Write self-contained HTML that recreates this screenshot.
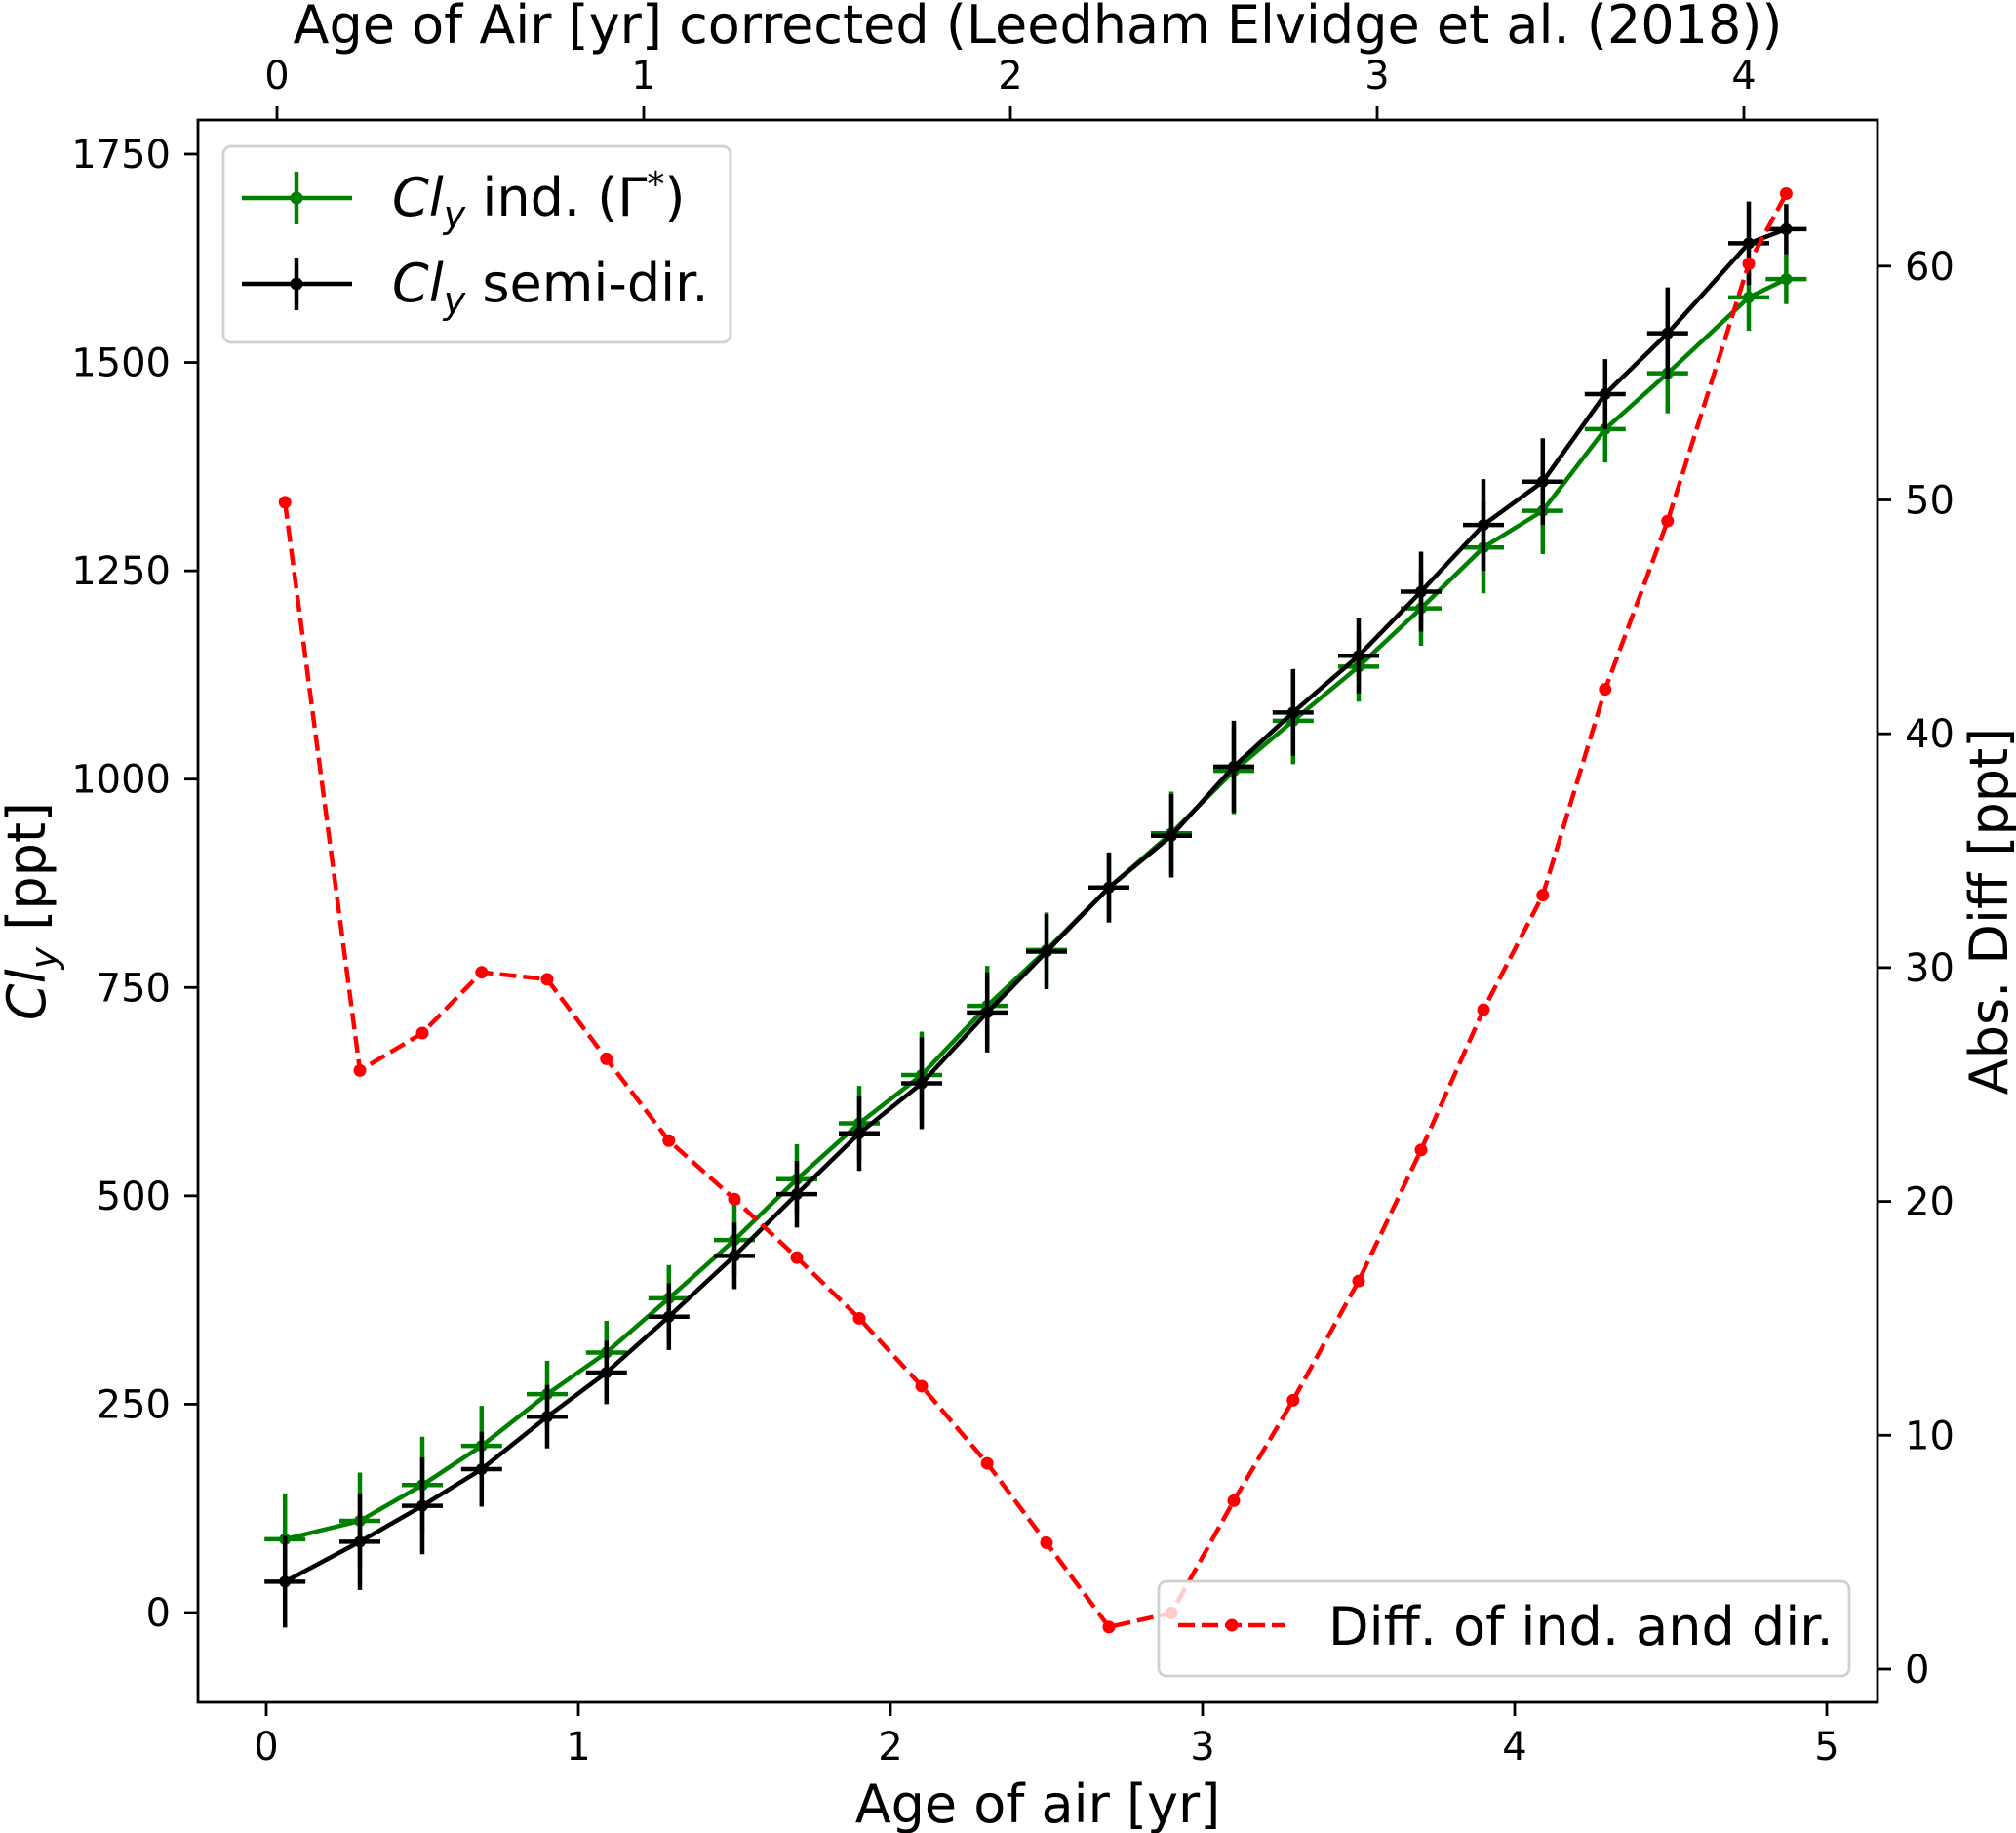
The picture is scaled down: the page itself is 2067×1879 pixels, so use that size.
<!DOCTYPE html>
<html><head><meta charset="utf-8"><style>
html,body{margin:0;padding:0;background:#fff;}
svg{display:block;font-family:"DejaVu Sans","Liberation Sans",sans-serif;}
</style></head><body>
<svg id="chart" width="2067" height="1879" viewBox="0 0 2067 1879" xmlns="http://www.w3.org/2000/svg"></svg>
<script>
const ages = [0.06,0.30,0.50,0.69,0.90,1.09,1.29,1.50,1.70,1.90,2.10,2.31,2.50,2.70,2.90,3.10,3.29,3.50,3.70,3.90,4.09,4.29,4.49,4.75,4.87];
const clyInd = [88,110,153,200,262,312,377,447,520,587,645,728,795,870,935,1010,1070,1135,1205,1278,1322,1420,1487,1578,1600];
const clyIndErr = [55,58,58,48,40,38,40,42,42,45,52,48,45,42,50,52,52,42,45,55,52,40,48,40,30];
const clySemi = [37,85,128,172,235,288,355,428,502,575,635,720,793,870,932,1015,1080,1148,1225,1305,1357,1462,1535,1643,1660];
const clySemiErr = [55,58,58,45,38,38,40,40,40,45,55,48,45,42,50,55,52,45,48,55,52,42,55,50,30];
const absDiff = [49.9,25.6,27.2,29.8,29.5,26.1,22.6,20.1,17.6,15.0,12.1,8.8,5.4,1.8,2.4,7.2,11.5,16.6,22.2,28.2,33.1,41.9,49.1,60.1,63.1];
const xTicks = [0,1,2,3,4,5];
const yTicks = [0,250,500,750,1000,1250,1500,1750];
const y2Ticks = [0,10,20,30,40,50,60];
const topTicks = [0,1,2,3,4];

const L=203,R=1925,T=123,B=1745;
const xs=v=>273+v*320;
const ys=v=>1653-v*0.8543;
const y2s=v=>1711-v*23.97;
const xt=v=>284+v*376;
const svg=document.getElementById('chart');
const NS='http://www.w3.org/2000/svg';
function mk(tag,attrs,parent){const e=document.createElementNS(NS,tag);for(const k in attrs)e.setAttribute(k,attrs[k]);(parent||svg).appendChild(e);return e;}
const TF=40, LF=54, LW=4.5;

const frame=mk('rect',{x:L,y:T,width:R-L,height:B-T,fill:'none',stroke:'#000','stroke-width':2.8});



xTicks.forEach(v=>{
  const g=mk('g',{});
  
  
  mk('line',{x1:xs(v),x2:xs(v),y1:B,y2:B+14,stroke:'#000','stroke-width':2.8},g);
  const t=mk('text',{x:xs(v),y:B+59,'font-size':TF,'text-anchor':'middle'},g);t.textContent=v;
});
topTicks.forEach(v=>{
  const g=mk('g',{});
  
  
  mk('line',{x1:xt(v),x2:xt(v),y1:T,y2:T-14,stroke:'#000','stroke-width':2.8},g);
  const t=mk('text',{x:xt(v),y:T-32,'font-size':TF,'text-anchor':'middle'},g);t.textContent=v;
});
yTicks.forEach(v=>{
  const g=mk('g',{});
  
  
  mk('line',{x1:L,x2:L-14,y1:ys(v),y2:ys(v),stroke:'#000','stroke-width':2.8},g);
  const t=mk('text',{x:L-28,y:ys(v)+14,'font-size':TF,'text-anchor':'end'},g);t.textContent=v;
});
y2Ticks.forEach(v=>{
  const g=mk('g',{});
  
  
  mk('line',{x1:R,x2:R+14,y1:y2s(v),y2:y2s(v),stroke:'#000','stroke-width':2.8},g);
  const t=mk('text',{x:R+28,y:y2s(v)+14,'font-size':TF,'text-anchor':'start'},g);t.textContent=v;
});

let t;
t=mk('text',{x:(L+R)/2,y:1868,'font-size':LF,'text-anchor':'middle'});t.textContent='Age of air [yr]';

t=mk('text',{x:(L+R)/2,y:44,'font-size':LF,'text-anchor':'middle'});t.textContent='Age of Air [yr] corrected (Leedham Elvidge et al. (2018))';

t=mk('text',{x:0,y:0,'font-size':LF,'text-anchor':'middle',transform:'translate(46,'+(T+B)/2+') rotate(-90)'});
t.innerHTML='<tspan font-style="italic">Cl</tspan><tspan font-style="italic" font-size="38" dy="12">y</tspan><tspan dy="-12"> [ppt]</tspan>';

t=mk('text',{x:0,y:0,'font-size':LF,'text-anchor':'middle',transform:'translate(2058,'+(T+B)/2+') rotate(-90)'});t.textContent='Abs. Diff [ppt]';


function series(vals,errs,color,name){
  const g=mk('g',{});
  
  
  const pts=ages.map((a,i)=>xs(a)+','+ys(vals[i])).join(' ');
  mk('polyline',{points:pts,fill:'none',stroke:color,'stroke-width':LW},g);
  ages.forEach((a,i)=>{
    const x=xs(a),y=ys(vals[i]);
    mk('line',{x1:x,x2:x,y1:ys(vals[i]-errs[i]),y2:ys(vals[i]+errs[i]),stroke:color,'stroke-width':LW},g);
    mk('line',{x1:x-21,x2:x+21,y1:y,y2:y,stroke:color,'stroke-width':LW},g);
    mk('circle',{cx:x,cy:y,r:6,fill:color},g);
  });
}
series(clyInd,clyIndErr,'#008000','series-cly-ind');
series(clySemi,clySemiErr,'#000','series-cly-semi-dir');

const gd=mk('g',{});


mk('polyline',{points:ages.map((a,i)=>xs(a)+','+y2s(absDiff[i])).join(' '),fill:'none',stroke:'#ff0000','stroke-width':LW,'stroke-dasharray':'17,7'},gd);
ages.forEach((a,i)=>mk('circle',{cx:xs(a),cy:y2s(absDiff[i]),r:6.5,fill:'#ff0000'},gd));

const lg=mk('g',{});


mk('rect',{x:229,y:150,width:520,height:201,rx:8,fill:'#fff','fill-opacity':0.8,stroke:'#d0d0d0','stroke-width':2.8},lg);
[['#008000',203,'ind. (Γ<tspan font-size="36" dy="-20">*</tspan><tspan dy="20">)</tspan>'],['#000',291,'semi-dir.']].forEach(([c,y,txt])=>{
  mk('line',{x1:248,x2:361,y1:y,y2:y,stroke:c,'stroke-width':LW},lg);
  mk('line',{x1:304,x2:304,y1:y-27,y2:y+27,stroke:c,'stroke-width':LW},lg);
  mk('circle',{cx:304,cy:y,r:6.5,fill:c},lg);
  const tt=mk('text',{x:402,y:y+18,'font-size':LF},lg);
  tt.innerHTML='<tspan font-style="italic">Cl</tspan><tspan font-style="italic" font-size="38" dy="12">y</tspan><tspan dy="-12"> </tspan>'+txt;
});
const lg2=mk('g',{});


mk('rect',{x:1188,y:1621,width:708,height:97,rx:8,fill:'#fff','fill-opacity':0.8,stroke:'#d0d0d0','stroke-width':2.8},lg2);
mk('line',{x1:1208,x2:1318,y1:1666,y2:1666,stroke:'#ff0000','stroke-width':LW,'stroke-dasharray':'17,7'},lg2);
mk('circle',{cx:1263,cy:1666,r:6.5,fill:'#ff0000'},lg2);
t=mk('text',{x:1362,y:1686,'font-size':LF},lg2);t.textContent='Diff. of ind. and dir.';
</script>
</body></html>
